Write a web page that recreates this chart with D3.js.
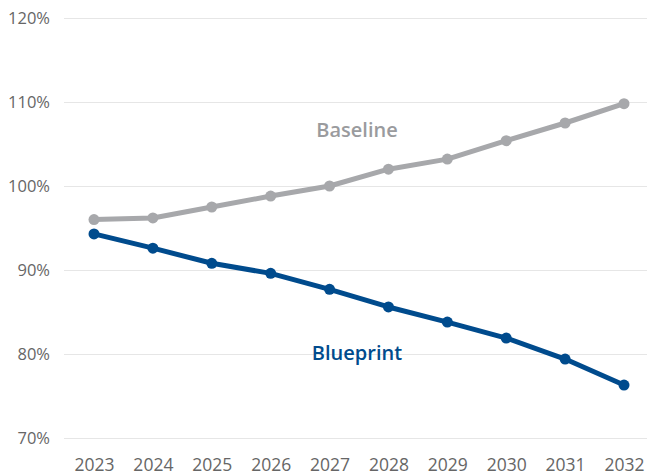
<!DOCTYPE html>
<html>
<head>
<meta charset="utf-8">
<script src="https://cdn.jsdelivr.net/npm/d3@7/dist/d3.min.js"></script>
<style>
  html, body { margin: 0; padding: 0; background: #fff; }
  svg { display: block; font-family: 'Open Sans', sans-serif; }
</style>
</head>
<body>
<svg id="chart" width="647" height="476"></svg>
<script>
'use strict';

// ── Data ────────────────────────────────────────────────────────────────
const years     = ['2023','2024','2025','2026','2027','2028','2029','2030','2031','2032'];
const baseline  = [96.0, 96.2, 97.5, 98.8, 100.0, 102.0, 103.2, 105.4, 107.5, 109.8];
const blueprint = [94.3, 92.6, 90.8, 89.6, 87.7, 85.6, 83.8, 81.9, 79.4, 76.3];
const yTicks    = [70, 80, 90, 100, 110, 120];

const GRAY = '#a7a8ab';
const BLUE = '#004b8d';

const W = 647, H = 476;
const svg = d3.select('#chart');

// ── Scales ──────────────────────────────────────────────────────────────
const x = d3.scalePoint().domain(years).range([94, 624]);
const y = d3.scaleLinear().domain([70, 120]).range([438, 18]);

// ── Y axis with gridlines ───────────────────────────────────────────────
const yAxis = d3.axisLeft(y)
  .tickValues(yTicks)
  .tickSize(-(W - 64))
  .tickPadding(14)
  .tickFormat(d => d + '%');

svg.append('g')
  .attr('transform', 'translate(64,0)')
  .call(yAxis)
  .call(ax => ax.select('.domain').remove())
  .call(ax => ax.selectAll('line').attr('stroke', '#e6e6e6').attr('stroke-width', 1.2))
  .call(ax => ax.selectAll('text')
    .attr('fill', '#666').attr('font-size', '16.5px')
    .attr('font-family', "'Open Sans', sans-serif"));

// ── X axis labels (sit right at the bottom edge, as in the source) ──────
svg.append('g')
  .attr('transform', 'translate(0,471)')
  .call(d3.axisBottom(x).tickSize(0).tickPadding(0))
  .call(ax => ax.select('.domain').remove())
  .call(ax => ax.selectAll('text')
    .attr('dy', null)
    .attr('fill', '#666').attr('font-size', '17.5px')
    .attr('font-family', "'Open Sans', sans-serif"));

// ── Lines ───────────────────────────────────────────────────────────────
const line = d3.line().x((d, i) => x(years[i])).y(d => y(d));

function drawSeries(values, color) {
  svg.append('path')
    .datum(values)
    .attr('d', line)
    .attr('fill', 'none')
    .attr('stroke', color)
    .attr('stroke-width', 5)
    .attr('stroke-linejoin', 'round');

  svg.append('g').selectAll('circle')
    .data(values)
    .join('circle')
    .attr('cx', (d, i) => x(years[i]))
    .attr('cy', d => y(d))
    .attr('r', 5.5)
    .attr('fill', color);
}

drawSeries(baseline, GRAY);
drawSeries(blueprint, BLUE);

// ── Series labels ───────────────────────────────────────────────────────
svg.append('text')
  .attr('x', 357).attr('y', y(105.8))
  .attr('text-anchor', 'middle')
  .attr('fill', '#9a9b9e')
  .attr('font-size', '20px').attr('font-weight', 600)
  .text('Baseline');

svg.append('text')
  .attr('x', 357).attr('y', y(79.3))
  .attr('text-anchor', 'middle')
  .attr('fill', BLUE)
  .attr('font-size', '20px').attr('font-weight', 600)
  .text('Blueprint');
</script>
</body>
</html>
